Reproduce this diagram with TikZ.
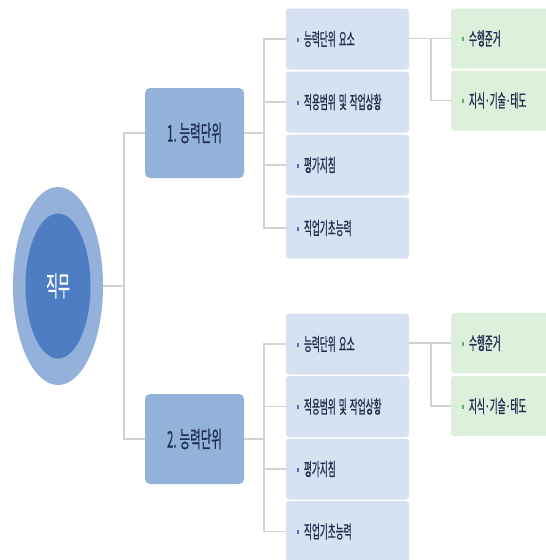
\documentclass[tikz,border=0pt]{standalone}
\usepackage{fontspec}
\usetikzlibrary{shapes.geometric}
\newfontfamily\krs{Noto Sans CJK KR}[FakeStretch=0.48, FakeBold=0.6]
\newfontfamily\krb{Noto Sans CJK KR}[FakeStretch=0.5, FakeBold=0.6]
\newfontfamily\krr{Noto Sans CJK KR}[FakeStretch=0.46, FakeBold=0.5]
\definecolor{outerell}{HTML}{93B1DA}
\definecolor{innerell}{HTML}{4F7DC3}
\definecolor{lvlone}{HTML}{93B2DA}
\definecolor{lvltwo}{HTML}{D6E1F1}
\definecolor{lvlthree}{HTML}{DDF0DB}
\definecolor{linegray}{HTML}{D2D2D2}
\definecolor{txtdark}{HTML}{1F2E4F}
\definecolor{bulblue}{HTML}{4A78BE}
\definecolor{bulgreen}{HTML}{5DB45D}
\newcommand{\bblt}{\textcolor{bulblue}{\rule[4pt]{2pt}{4pt}}\hspace{5pt}}
\newcommand{\gblt}{\textcolor{bulgreen}{\rule[4pt]{2pt}{4pt}}\hspace{5pt}}
\newcommand{\ws}{\hspace{3pt}}
\tikzset{
  unitbox/.style={rectangle, rounded corners=5pt, fill=lvlone, minimum width=99pt, minimum height=90pt, inner sep=0pt, text=txtdark, font=\krb\fontsize{23}{25}\selectfont},
  itembox/.style={rectangle, rounded corners=3pt, fill=lvltwo, minimum height=61pt, text width=101pt, inner xsep=11pt, align=left, text=txtdark, font=\krs\fontsize{18}{20}\selectfont},
  subbox/.style={rectangle, rounded corners=3pt, fill=lvlthree, minimum height=60pt, text width=87pt, inner xsep=11pt, align=left, text=txtdark, font=\krs\fontsize{18}{20}\selectfont},
  conn/.style={draw=linegray, line width=1.4pt},
}
\begin{document}
\begin{tikzpicture}[x=1pt,y=-1pt]
\useasboundingbox (0,0) rectangle (546,560);
\clip (0,0) rectangle (546,560);
% root ellipse
\node[ellipse, fill=outerell, minimum width=90pt, minimum height=198pt, inner sep=0pt] (root) at (58,286) {};
\node[ellipse, fill=innerell, minimum width=65pt, minimum height=145pt, inner sep=0pt, text=white, font=\krr\fontsize{28}{30}\selectfont] (rootin) at (58,286) {직무};
% level one
\node[unitbox] (u1) at (194.5,133) {1.\ws 능력단위};
\node[unitbox] (u2) at (194.5,439) {2.\ws 능력단위};
% level two, top
\node[itembox] (a1) at (347.5,39) {\bblt 능력단위\ws 요소};
\node[itembox] (a2) at (347.5,102) {\bblt 적용범위\ws 및\ws 작업상황};
\node[itembox] (a3) at (347.5,165) {\bblt 평가지침};
\node[itembox] (a4) at (347.5,228) {\bblt 직업기초능력};
% level two, bottom
\node[itembox] (b1) at (347.5,344) {\bblt 능력단위\ws 요소};
\node[itembox] (b2) at (347.5,406.5) {\bblt 적용범위\ws 및\ws 작업상황};
\node[itembox] (b3) at (347.5,469) {\bblt 평가지침};
\node[itembox] (b4) at (347.5,531.5) {\bblt 직업기초능력};
% level three
\node[subbox] (c1) at (505.5,38.5) {\gblt 수행준거};
\node[subbox] (c2) at (505.5,100.5) {\gblt 지식·기술·태도};
\node[subbox] (d1) at (505.5,343) {\gblt 수행준거};
\node[subbox] (d2) at (505.5,406) {\gblt 지식·기술·태도};
% connectors
\coordinate (j0) at (124,286);
\coordinate (j1) at (264,133);
\coordinate (j2) at (264,439);
\coordinate (k1) at (431,38.5);
\coordinate (k2) at (431,343);
\draw[conn] (root.east) -- (j0);
\draw[conn] (u1.west) -| (j0) |- (u2.west);
\draw[conn] (u1.east) -- (j1);
\draw[conn] (a1.west) -| (j1);
\draw[conn] (a4.west) -| (j1);
\draw[conn] (a2.west) -- (a2.west -| j1);
\draw[conn] (a3.west) -- (a3.west -| j1);
\draw[conn] (u2.east) -- (j2);
\draw[conn] (b1.west) -| (j2);
\draw[conn] (b4.west) -| (j2);
\draw[conn] (b2.west) -- (b2.west -| j2);
\draw[conn] (b3.west) -- (b3.west -| j2);
\draw[conn] (a1.east |- c1.west) -- (c1.west);
\draw[conn] (k1) |- (c2.west);
\draw[conn] (b1.east |- d1.west) -- (d1.west);
\draw[conn] (k2) |- (d2.west);
\end{tikzpicture}
\end{document}
